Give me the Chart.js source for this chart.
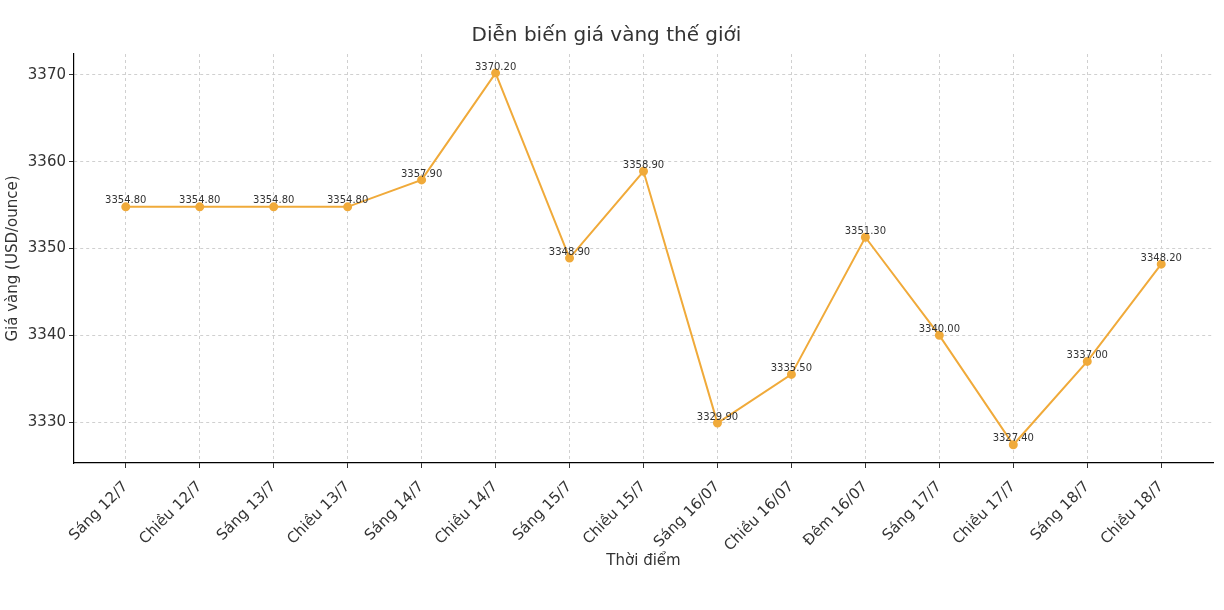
<!DOCTYPE html>
<html><head><meta charset="utf-8">
<script src="https://cdn.jsdelivr.net/npm/chart.js@4"></script>
<style>html,body{margin:0;padding:0;background:#fff}#w{width:1224px;height:610px}</style>
</head><body><div id="w"><canvas id="c"></canvas></div>
<script>
const categories = ["Sáng 12/7","Chiều 12/7","Sáng 13/7","Chiều 13/7","Sáng 14/7","Chiều 14/7","Sáng 15/7","Chiều 15/7","Sáng 16/07","Chiều 16/07","Đêm 16/07","Sáng 17/7","Chiều 17/7","Sáng 18/7","Chiều 18/7"];
const prices = [3354.8,3354.8,3354.8,3354.8,3357.9,3370.2,3348.9,3358.9,3329.9,3335.5,3351.3,3340.0,3327.4,3337.0,3348.2];
const yTicks = [3330,3340,3350,3360,3370];
const color = '#F0AA3A';
const font = "'DejaVu Sans', sans-serif";

const labelPlugin = {
  id:'lbl',
  afterDatasetsDraw(chart){
    const ctx=chart.ctx, meta=chart.getDatasetMeta(0);
    ctx.save(); ctx.font="10px "+font; ctx.fillStyle='#333'; ctx.textAlign='center'; ctx.textBaseline='bottom';
    meta.data.forEach((p,i)=>ctx.fillText(prices[i].toFixed(2),p.x,p.y-1));
    ctx.restore();
  }
};
new Chart(document.getElementById('c'),{
  type:'line',
  data:{datasets:[{data:prices.map((v,i)=>({x:i,y:v})),borderColor:color,backgroundColor:color,borderWidth:2,pointRadius:3.5,pointHoverRadius:3.5,tension:0}]},
  options:{
    responsive:true,maintainAspectRatio:false,animation:false,
    layout:{padding:{left:0,right:11,top:0,bottom:40}},
    plugins:{legend:{display:false},tooltip:{enabled:false},
      title:{display:true,text:'Diễn biến giá vàng thế giới',color:'#333',font:{family:font,size:20,weight:'normal'},padding:{top:24,bottom:6}}},
    scales:{
      x:{type:'linear',min:-0.7,max:14.7,
        afterBuildTicks(s){s.ticks=categories.map((c,i)=>({value:i}));},
        ticks:{callback:(v)=>categories[v],maxRotation:45,minRotation:45,autoSkip:false,color:'#333',font:{family:font,size:15},padding:10},
        grid:{color:'#d0d0d0',drawTicks:true,tickLength:5,tickColor:'#333'},border:{color:'#000',width:1.2,dash:[3,3]},
        title:{display:true,text:'Thời điểm',color:'#333',font:{family:font,size:15},padding:{top:0,bottom:0}},
        afterFit(s){s.height=107;}
      },
      y:{min:3325.3,max:3372.4,
        afterBuildTicks(s){s.ticks=yTicks.map(v=>({value:v}));},
        ticks:{color:'#333',font:{family:font,size:15},callback:v=>v},
        grid:{color:'#d0d0d0',tickLength:5,tickColor:'#333'},border:{color:'#000',width:1.2,dash:[3,3]},
        title:{display:true,text:'Giá vàng (USD/ounce)',color:'#333',font:{family:font,size:15}},
        afterFit(s){s.width=74;}
      }
    }
  },
  plugins:[labelPlugin]
});
</script></body></html>
